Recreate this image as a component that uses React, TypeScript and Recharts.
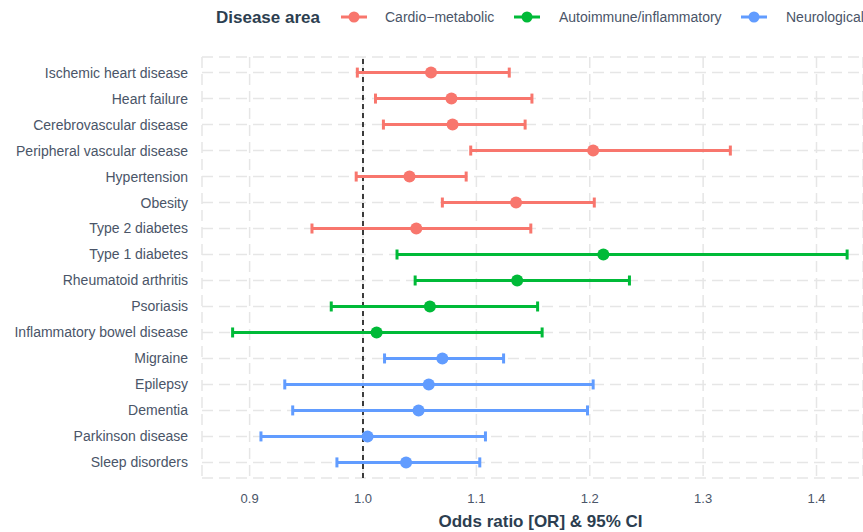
import React from "react";
import {
  ScatterChart,
  Scatter,
  XAxis,
  YAxis,
  CartesianGrid,
  ErrorBar,
  ReferenceLine,
  Legend,
} from "recharts";

const categories = [
  "Ischemic heart disease",
  "Heart failure",
  "Cerebrovascular disease",
  "Peripheral vascular disease",
  "Hypertension",
  "Obesity",
  "Type 2 diabetes",
  "Type 1 diabetes",
  "Rheumatoid arthritis",
  "Psoriasis",
  "Inflammatory bowel disease",
  "Migraine",
  "Epilepsy",
  "Dementia",
  "Parkinson disease",
  "Sleep disorders",
];

const groupOf = [0, 0, 0, 0, 0, 0, 0, 1, 1, 1, 1, 2, 2, 2, 2, 2];
const groupNames = ["Cardio\u2212metabolic", "Autoimmune/inflammatory", "Neurological"];
const groupColors = ["#F8766D", "#00BA38", "#619CFF"];

const oddsRatio = [1.06, 1.078, 1.079, 1.203, 1.041, 1.135, 1.047, 1.212, 1.136, 1.059, 1.012, 1.07, 1.058, 1.049, 1.004, 1.038];
const lowerCI = [0.995, 1.011, 1.018, 1.095, 0.994, 1.07, 0.955, 1.03, 1.046, 0.972, 0.885, 1.019, 0.931, 0.938, 0.91, 0.977];
const upperCI = [1.129, 1.149, 1.143, 1.324, 1.091, 1.204, 1.148, 1.427, 1.235, 1.154, 1.158, 1.124, 1.203, 1.198, 1.108, 1.103];

const xTicks = [0.9, 1.0, 1.1, 1.2, 1.3, 1.4];

const rows = categories.map((c, i) => ({
  name: c,
  row: i + 1,
  or: oddsRatio[i],
  err: [oddsRatio[i] - lowerCI[i], upperCI[i] - oddsRatio[i]],
  group: groupOf[i],
}));

const seriesData = groupNames.map((_, g) => rows.filter((r) => r.group === g));

const FONT = "'Liberation Sans', Arial, Helvetica, sans-serif";
const TEXT = "#4a5568";
const TITLE = "#2c3e50";

const LegendContent = () => {
  const items = [
    { icon: 340, text: 385 },
    { icon: 513, text: 559 },
    { icon: 740, text: 786 },
  ];
  return (
    <div style={{ position: "relative", width: 863, height: 36, fontFamily: FONT }}>
      <span
        style={{
          position: "absolute",
          left: 216,
          top: 8,
          fontSize: 17,
          lineHeight: "20px",
          fontWeight: "bold",
          color: TITLE,
          whiteSpace: "nowrap",
        }}
      >
        Disease area
      </span>
      {items.map((it, i) => (
        <React.Fragment key={i}>
          <svg style={{ position: "absolute", left: it.icon, top: 10 }} width={28} height={14}>
            <line x1={1} y1={7} x2={27} y2={7} stroke={groupColors[i]} strokeWidth={3} />
            <circle cx={14} cy={7} r={5.5} fill={groupColors[i]} />
          </svg>
          <span
            style={{
              position: "absolute",
              left: it.text,
              top: 8,
              fontSize: 14,
              lineHeight: "18px",
              color: TEXT,
              whiteSpace: "nowrap",
            }}
          >
            {groupNames[i]}
          </span>
        </React.Fragment>
      ))}
    </div>
  );
};

export default function App() {
  return (
    <div style={{ position: "absolute", left: 0, top: 0, width: 863, height: 532, background: "#fff", overflow: "hidden" }}>
      <ScatterChart width={863} height={532} margin={{ top: 21, right: 0, bottom: 24, left: 0 }}>
        <CartesianGrid stroke="#e6e6e6" strokeWidth={1.5} strokeDasharray="11 6" />
        <XAxis
          type="number"
          dataKey="or"
          domain={[0.858, 1.441]}
          ticks={xTicks}
          tickFormatter={(v: number) => v.toFixed(1)}
          axisLine={false}
          tickLine={false}
          tickMargin={10}
          height={30}
          tick={{ fill: TEXT, fontSize: 13, fontFamily: FONT }}
          allowDataOverflow
          label={{
            value: "Odds ratio [OR] & 95% CI",
            position: "insideBottom",
            offset: -19,
            dx: 8,
            fill: TITLE,
            fontSize: 17,
            fontWeight: "bold",
            fontFamily: FONT,
          }}
        />
        <YAxis
          type="number"
          dataKey="row"
          domain={[0.4, 16.6]}
          reversed
          ticks={categories.map((_, i) => i + 1)}
          interval={0}
          tickFormatter={(v: number) => categories[v - 1] ?? ""}
          axisLine={false}
          tickLine={false}
          tickMargin={8}
          width={202}
          tick={{ fill: TEXT, fontSize: 14, fontFamily: FONT }}
        />
        <Legend verticalAlign="top" align="left" content={() => <LegendContent />} wrapperStyle={{ left: 0, top: 0 }} />
        <ReferenceLine x={1} stroke="#000" strokeWidth={1.5} strokeDasharray="5 4" />
        {seriesData.map((d, g) => (
          <Scatter
            key={g}
            name={groupNames[g]}
            data={d}
            fill={groupColors[g]}
            isAnimationActive={false}
            shape={(p: any) => <circle cx={p.cx} cy={p.cy} r={6} fill={groupColors[g]} />}
          >
            <ErrorBar
              dataKey="err"
              direction="x"
              width={5}
              stroke={groupColors[g]}
              strokeWidth={3}
              isAnimationActive={false}
            />
          </Scatter>
        ))}
      </ScatterChart>
    </div>
  );
}
